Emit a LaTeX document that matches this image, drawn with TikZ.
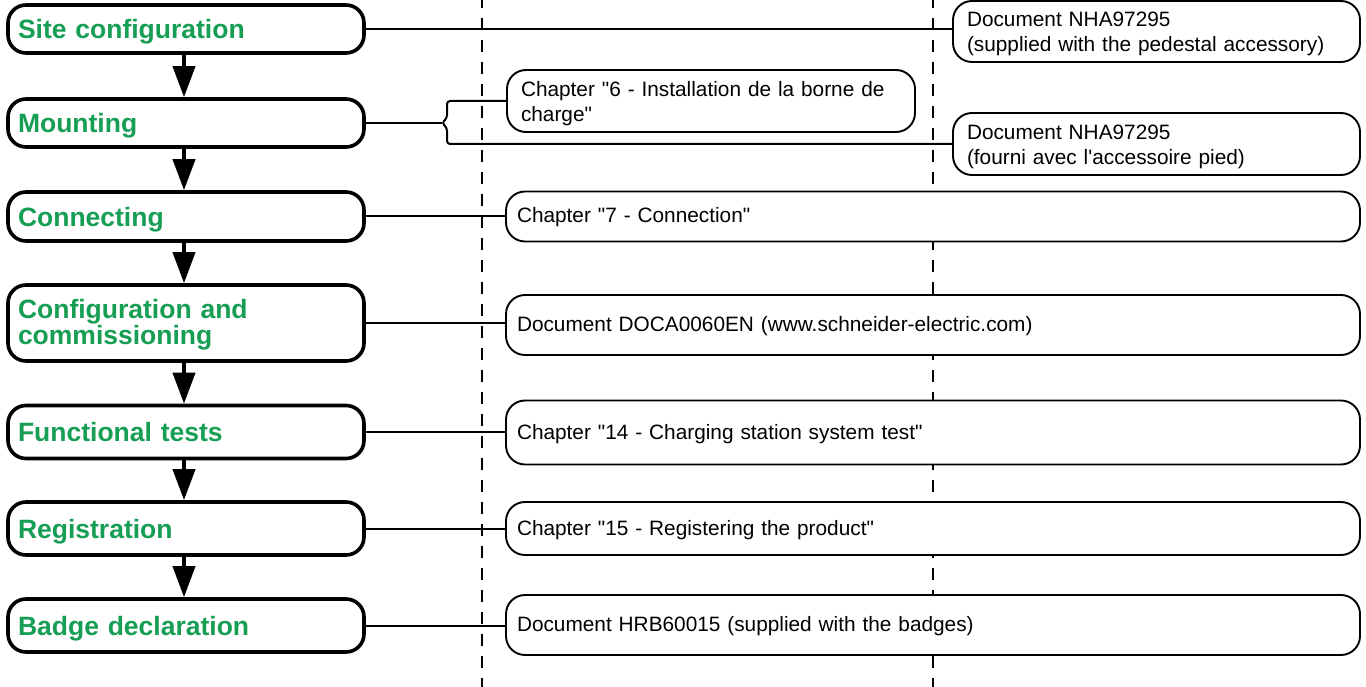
\documentclass[tikz,border=0pt]{standalone}
\usepackage{fontspec}
\setmainfont{Liberation Sans}[Ligatures=TeXOff]
\usetikzlibrary{arrows.meta}
\definecolor{stepgreen}{RGB}{22,158,84}
\pgfdeclarelayer{bg}
\pgfsetlayers{bg,main}
\begin{document}
\begin{tikzpicture}[x=1pt,y=-1pt,
  lbox/.style={draw, line width=3.6pt, rounded corners=18pt, fill=white,
    minimum width=356pt, text width=336pt, inner xsep=10pt, inner ysep=0pt,
    align=left, text=stepgreen, font=\fontsize{26.5}{23}\selectfont\bfseries},
  lone/.style={text height=19.5pt, text depth=-2.5pt},
  rbox/.style={draw, line width=1.9pt, rounded corners=19pt, fill=white,
    inner xsep=14pt, inner ysep=0pt, align=left,
    font=\fontsize{20.8}{25}\selectfont},
  rone/.style={text height=15pt, text depth=2pt, inner xsep=11pt, text width=832pt},
  flow/.style={line width=4pt, -{Triangle[length=31pt,width=22pt]}},
  conn/.style={line width=2pt},
  dline/.style={line width=2pt, dash pattern=on 12pt off 10pt}
]
\useasboundingbox (0,0) rectangle (1366,687);

% left steps
\node[lbox, lone, minimum height=48pt] (s1) at (186,29) {Site configuration};
\node[lbox, lone, minimum height=48pt] (s2) at (186,123) {Mounting};
\node[lbox, lone, minimum height=49pt] (s3) at (186,216.5) {Connecting};
\node[lbox, text height=19.5pt, text depth=27.5pt, minimum height=76pt] (s4) at (186,323) {Configuration and\\commissioning};
\node[lbox, lone, minimum height=53pt] (s5) at (186,432) {Functional tests};
\node[lbox, lone, minimum height=53pt] (s6) at (186,528.5) {Registration};
\node[lbox, lone, minimum height=53pt] (s7) at (186,625.5) {Badge declaration};

% right documents
\node[rbox, text height=15pt, text depth=25pt, text width=379pt, minimum height=61pt] (dA) at (1156.5,31.5) {Document NHA97295\\(supplied with the pedestal accessory)};
\node[rbox, text height=15pt, text depth=23.6pt, text width=380pt, minimum height=62pt] (dB) at (711,101) {Chapter "6 - Installation de la borne de\\charge"};
\node[rbox, text height=15pt, text depth=23pt, text width=379pt, minimum height=62pt] (dC) at (1156.5,144) {Document NHA97295\\(fourni avec l'accessoire pied)};
\node[rbox, rone, minimum height=50pt] (dD) at (933,216.5) {Chapter "7 - Connection"};
\node[rbox, rone, minimum height=60pt] (dE) at (933,325) {Document DOCA0060EN (www.schneider-electric.com)};
\node[rbox, rone, minimum height=64pt] (dF) at (933,432.5) {Chapter "14 - Charging station system test"};
\node[rbox, rone, minimum height=53pt] (dG) at (933,528.5) {Chapter "15 - Registering the product"};
\node[rbox, rone, minimum height=60pt] (dH) at (933,625) {Document HRB60015 (supplied with the badges)};

% background and dashed guide lines
\begin{pgfonlayer}{bg}
\fill[white] (0,0) rectangle (1366,687);
\draw[dline] (482,-4) -- (482,690);
\draw[dline] (933,-4) -- (933,690);
\end{pgfonlayer}

% flow arrows
\draw[flow] ([xshift=-2pt]s1.south) -- ([xshift=-2pt]s2.north);
\draw[flow] ([xshift=-2pt]s2.south) -- ([xshift=-2pt]s3.north);
\draw[flow] ([xshift=-2pt]s3.south) -- ([xshift=-2pt]s4.north);
\draw[flow] ([xshift=-2pt]s4.south) -- ([xshift=-2pt]s5.north);
\draw[flow] ([xshift=-2pt]s5.south) -- ([xshift=-2pt]s6.north);
\draw[flow] ([xshift=-2pt]s6.south) -- ([xshift=-2pt]s7.north);

% connectors
\draw[conn] (s1.east) -- (s1.east -| dA.west);
\coordinate (bt) at (442,123);
\draw[conn] (s2.east) -- (bt);
\draw[conn, rounded corners=3pt] (dB.west) -- (447,101) -- (447,118) -- (bt) -- (447,128) -- (447,144) -- (dC.west);
\draw[conn] (s3.east) -- (s3.east -| dD.west);
\draw[conn] (s4.east) -- (s4.east -| dE.west);
\draw[conn] (s5.east) -- (s5.east -| dF.west);
\draw[conn] (s6.east) -- (s6.east -| dG.west);
\draw[conn] (s7.east) -- (s7.east -| dH.west);
\end{tikzpicture}
\end{document}
